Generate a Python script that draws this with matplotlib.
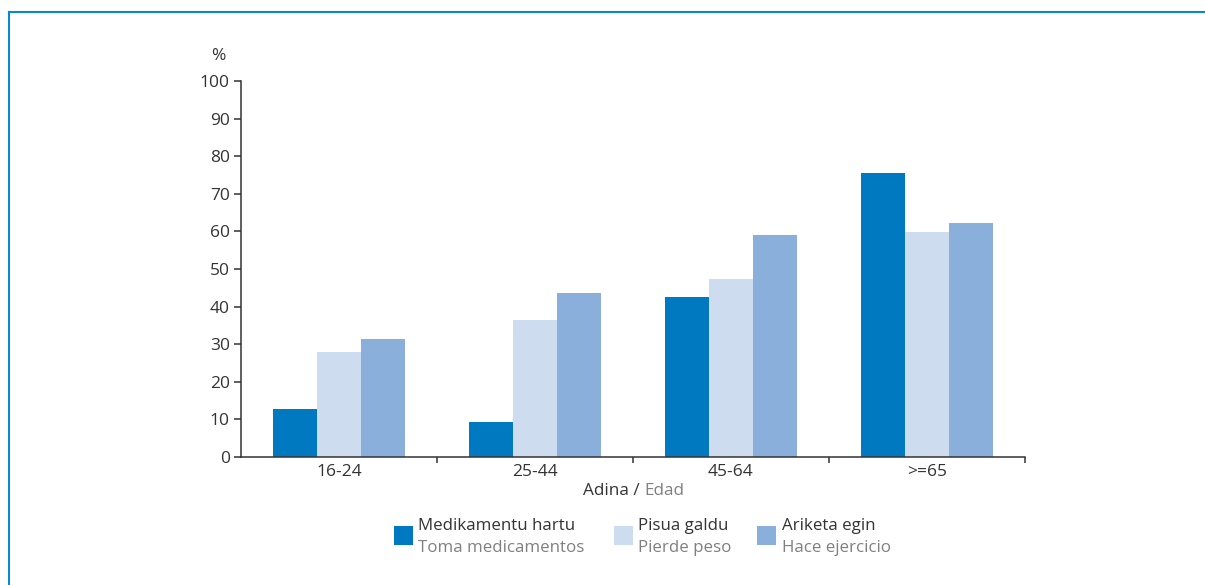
import matplotlib.pyplot as plt
from matplotlib.lines import Line2D
from matplotlib.patches import Rectangle
import numpy as np

plt.rcParams['font.family'] = ['Open Sans', 'DejaVu Sans']

age_groups = ['16-24', '25-44', '45-64', '>=65']
medicamentos = [12.8, 9.3, 42.6, 75.5]
pierde_peso = [28.0, 36.4, 47.3, 59.8]
ejercicio = [31.4, 43.6, 59.0, 62.2]

series = [medicamentos, pierde_peso, ejercicio]
colors = ['#0079c1', '#cddcee', '#8aafdb']
labels_eu = ['Medikamentu hartu', 'Pisua galdu', 'Ariketa egin']
labels_es = ['Toma medicamentos', 'Pierde peso', 'Hace ejercicio']

dark = '#333333'
grey = '#808080'

W, H = 1205, 585
fig = plt.figure(figsize=(W / 100, H / 100), dpi=100)
ax = fig.add_axes([241 / W, 1 - 457 / H, (1025 - 241) / W, (457 - 81) / H])

x = np.arange(len(age_groups))
bw = 0.223
for i, vals in enumerate(series):
    ax.bar(x + (i - 1) * bw, vals, width=bw, color=colors[i], linewidth=0)

ax.set_xlim(-0.5, len(age_groups) - 0.5)
ax.set_ylim(0, 100)
ax.set_yticks(range(0, 101, 10))
ax.tick_params(axis='y', direction='out', length=5, width=1.1, color=dark,
               labelsize=12.5, labelcolor=dark, pad=3)
ax.set_xticks(x)
ax.set_xticklabels(age_groups)
ax.set_xticks(np.arange(0.5, len(age_groups), 1.0), minor=True)
ax.tick_params(axis='x', which='major', length=0, labelsize=12.5, labelcolor=dark, pad=5)
ax.tick_params(axis='x', which='minor', direction='out', length=4, width=1.1, color=dark)
for s in ['top', 'right']:
    ax.spines[s].set_visible(False)
for s in ['left', 'bottom']:
    ax.spines[s].set_color(dark)
    ax.spines[s].set_linewidth(1.1)

# "%" unit label
fig.text(218 / W, 1 - 56 / H, '%', fontsize=12.5, color=dark, ha='center', va='center')

# x axis title
fig.text(640 / W, 1 - 491 / H, 'Adina /', fontsize=12.3, color=dark, ha='right', va='center')
fig.text(644 / W, 1 - 491 / H, 'Edad', fontsize=12.3, color=grey, ha='left', va='center')

# legend
sq_x = [394, 614, 757]
txt_x = [418, 638, 782]
for i in range(3):
    fig.patches.append(Rectangle((sq_x[i] / W, 1 - 545 / H), 19 / W, 19 / H,
                                 transform=fig.transFigure, color=colors[i], linewidth=0))
    fig.text(txt_x[i] / W, 1 - 526 / H, labels_eu[i], fontsize=12.2, color=dark,
             ha='left', va='center')
    fig.text(txt_x[i] / W, 1 - 548 / H, labels_es[i], fontsize=12.2, color=grey,
             ha='left', va='center')

# frame
border = '#0a86d8'
fig.lines.append(Line2D([9 / W, 1], [1 - 12 / H, 1 - 12 / H], transform=fig.transFigure,
                        color=border, linewidth=1.5))
fig.lines.append(Line2D([9 / W, 9 / W], [0, 1 - 12 / H], transform=fig.transFigure,
                        color=border, linewidth=1.5))

fig.savefig('out.png', dpi=100)
